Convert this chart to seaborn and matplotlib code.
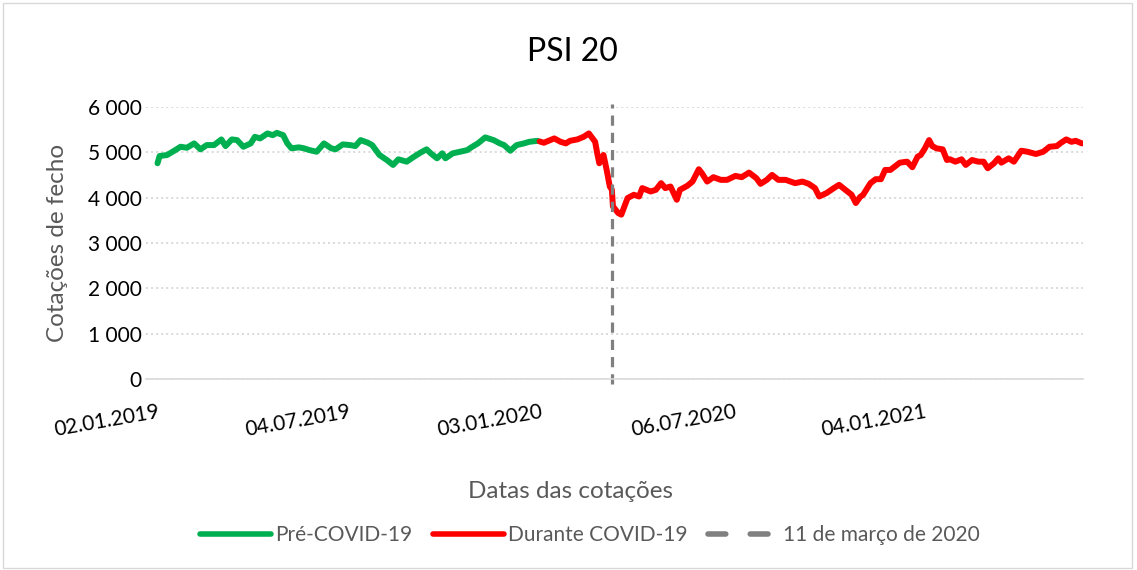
import pandas as pd
import numpy as np
import matplotlib
matplotlib.use('Agg')
import matplotlib.pyplot as plt
from matplotlib.lines import Line2D
from matplotlib.patches import Rectangle
import seaborn as sns

# PSI 20 closing prices (approx. every few trading days)
pre_dates = ['2019-01-02', '2019-01-04', '2019-01-11', '2019-01-18', '2019-01-24', '2019-01-30',
             '2019-02-06', '2019-02-12', '2019-02-18', '2019-02-25', '2019-03-04', '2019-03-08',
             '2019-03-14', '2019-03-19', '2019-03-25', '2019-04-01', '2019-04-05', '2019-04-10',
             '2019-04-17', '2019-04-22', '2019-04-26', '2019-05-02', '2019-05-06', '2019-05-10',
             '2019-05-17', '2019-05-22', '2019-05-27', '2019-06-03', '2019-06-10', '2019-06-17',
             '2019-06-21', '2019-06-28', '2019-07-05', '2019-07-10', '2019-07-15', '2019-07-22',
             '2019-07-26', '2019-08-02', '2019-08-09', '2019-08-15', '2019-08-20', '2019-08-28',
             '2019-09-04', '2019-09-10', '2019-09-16', '2019-09-20', '2019-09-26', '2019-10-01',
             '2019-10-04', '2019-10-11', '2019-10-18', '2019-10-25', '2019-10-28', '2019-11-04',
             '2019-11-11', '2019-11-19', '2019-11-25', '2019-11-29', '2019-12-05', '2019-12-11',
             '2019-12-18', '2019-12-23', '2019-12-31']
pre_close = [4759, 4919, 4940, 5035, 5123, 5101, 5197, 5066, 5160, 5160,
             5285, 5138, 5285, 5270, 5123, 5197, 5342, 5307, 5417, 5379,
             5430, 5379, 5197, 5088, 5110, 5088, 5050, 5013, 5197, 5088,
             5066, 5175, 5160, 5138, 5270, 5211, 5160, 4941, 4831, 4722,
             4846, 4794, 4904, 4991, 5066, 4978, 4868, 4978, 4868, 4978,
             5013, 5050, 5100, 5197, 5329, 5270, 5197, 5160, 5035, 5160,
             5197, 5232, 5254]

covid_dates = ['2020-01-02', '2020-01-06', '2020-01-16', '2020-01-22', '2020-01-27', '2020-01-31',
               '2020-02-07', '2020-02-13', '2020-02-18', '2020-02-24', '2020-02-26', '2020-02-28',
               '2020-03-03', '2020-03-06', '2020-03-09', '2020-03-11', '2020-03-12', '2020-03-17',
               '2020-03-20', '2020-03-26', '2020-04-01', '2020-04-06', '2020-04-09', '2020-04-17',
               '2020-04-22', '2020-04-27', '2020-05-01', '2020-05-06', '2020-05-12', '2020-05-15',
               '2020-05-22', '2020-05-27', '2020-06-02', '2020-06-05', '2020-06-10', '2020-06-16',
               '2020-06-23', '2020-06-29', '2020-07-07', '2020-07-13', '2020-07-20', '2020-07-27',
               '2020-07-31', '2020-08-06', '2020-08-11', '2020-08-17', '2020-08-24', '2020-09-02',
               '2020-09-09', '2020-09-15', '2020-09-21', '2020-09-25', '2020-10-02', '2020-10-09',
               '2020-10-14', '2020-10-20', '2020-10-26', '2020-10-30', '2020-11-03', '2020-11-06',
               '2020-11-13', '2020-11-18', '2020-11-23', '2020-11-27', '2020-12-02', '2020-12-07',
               '2020-12-11', '2020-12-18', '2020-12-23', '2020-12-28', '2020-12-31', '2021-01-04',
               '2021-01-08', '2021-01-11', '2021-01-15', '2021-01-21', '2021-01-25', '2021-01-28',
               '2021-02-02', '2021-02-08', '2021-02-12', '2021-02-18', '2021-02-24', '2021-03-01',
               '2021-03-05', '2021-03-11', '2021-03-15', '2021-03-18', '2021-03-25', '2021-03-30',
               '2021-04-06', '2021-04-12', '2021-04-20', '2021-04-27', '2021-05-03', '2021-05-10',
               '2021-05-14', '2021-05-19', '2021-05-24', '2021-05-28', '2021-06-03']
covid_close = [5240, 5211, 5307, 5232, 5197, 5254, 5285, 5342, 5417, 5232, 4978, 4759,
               4941, 4612, 4246, 4173, 3807, 3662, 3625, 3991, 4064, 4026, 4211, 4136,
               4173, 4320, 4211, 4246, 3954, 4173, 4261, 4355, 4627, 4539, 4355, 4452,
               4393, 4393, 4480, 4452, 4553, 4430, 4305, 4393, 4502, 4393, 4393, 4320,
               4355, 4305, 4211, 4026, 4101, 4211, 4283, 4173, 4064, 3882, 4013, 4064,
               4320, 4408, 4408, 4612, 4612, 4700, 4772, 4794, 4671, 4904, 4941, 5088,
               5270, 5138, 5088, 5066, 4831, 4846, 4794, 4846, 4722, 4831, 4794, 4794,
               4649, 4759, 4868, 4772, 4868, 4794, 5035, 5013, 4963, 5013, 5123, 5138,
               5211, 5285, 5232, 5254, 5197]

event_date = '2020-03-11'
tick_dates = ['2019-01-02', '2019-07-04', '2020-01-03', '2020-07-06', '2021-01-04']
tick_labels = ['02.01.2019', '04.07.2019', '03.01.2020', '06.07.2020', '04.01.2021']
y_ticks = [0, 1000, 2000, 3000, 4000, 5000, 6000]
y_labels = ['0', '1 000', '2 000', '3 000', '4 000', '5 000', '6 000']

pre_df = pd.DataFrame({'data': pd.to_datetime(pre_dates), 'fecho': pre_close})
covid_df = pd.DataFrame({'data': pd.to_datetime(covid_dates), 'fecho': covid_close})

sns.set_style("white")
plt.rcParams['font.family'] = ['Lato', 'DejaVu Sans']

GREEN = '#00B050'
RED = '#FF0000'
GREY = '#808080'
TXT = '#595959'

fig = plt.figure(figsize=(11.37, 5.70), dpi=100)
ax = fig.add_axes([146 / 1137, 1 - 379 / 570, (1083 - 146) / 1137, 272 / 570])

sns.lineplot(data=pre_df, x='data', y='fecho', color=GREEN, linewidth=4.3, ax=ax,
             solid_capstyle='round', solid_joinstyle='round')
sns.lineplot(data=covid_df, x='data', y='fecho', color=RED, linewidth=4.3, ax=ax,
             solid_capstyle='round', solid_joinstyle='round')
ax.axvline(pd.Timestamp(event_date), ymin=-0.02, ymax=1.01, color=GREY, linewidth=2.3,
           linestyle=(0, (3.2, 2.2)), clip_on=False)

ax.set_ylim(0, 6000)
ax.set_xlim(pd.Timestamp('2018-12-22'), pd.Timestamp('2021-06-04'))
ax.set_yticks(y_ticks)
ax.set_yticklabels(y_labels)
ax.set_xticks(pd.to_datetime(tick_dates))
ax.set_xticklabels(tick_labels, rotation=10, ha='right', va='top', rotation_mode='anchor')
ax.tick_params(axis='both', length=0, labelsize=15, colors='black')
ax.tick_params(axis='x', pad=16)
ax.tick_params(axis='y', pad=3)

ax.yaxis.grid(True, color='#D9D9D9', linestyle=(0, (1, 1.6)), linewidth=1.4)
ax.xaxis.grid(False)
sns.despine(ax=ax, left=True)
ax.spines['bottom'].set_color('#D9D9D9')
ax.spines['bottom'].set_linewidth(1.2)

ax.set_xlabel('Datas das cotações', fontsize=17.5, color=TXT)
ax.set_ylabel('Cotações de fecho', fontsize=17.5, color=TXT)
ax.xaxis.set_label_coords((570 - 146) / 937, (379 - 481) / 272)
ax.yaxis.set_label_coords((68 - 146) / 937, 0.5)

fig.text(572 / 1137, 1 - 52 / 570, 'PSI 20', ha='center', va='center', fontsize=23, color='black')

handles = [
    Line2D([], [], color=GREEN, linewidth=4.0, solid_capstyle='round'),
    Line2D([], [], color=RED, linewidth=4.0, solid_capstyle='round'),
    Line2D([], [], color=GREY, linewidth=4.0, linestyle=(0, (3.2, 4.4)), dash_capstyle='round'),
]
labels = ['Pré-COVID-19', 'Durante COVID-19', '11 de março de 2020']
ax.legend(handles, labels, loc='center', bbox_to_anchor=(590 / 1137, 1 - 535 / 570),
          bbox_transform=fig.transFigure, ncol=3, frameon=False, fontsize=15,
          labelcolor=TXT, handlelength=3.4, handletextpad=0.2, columnspacing=1.0)

fig.patches.append(Rectangle((0.003, 0.004), 0.993, 0.99, transform=fig.transFigure,
                             fill=False, edgecolor='#D9D9D9', linewidth=1))

fig.savefig('out.png', dpi=100)
